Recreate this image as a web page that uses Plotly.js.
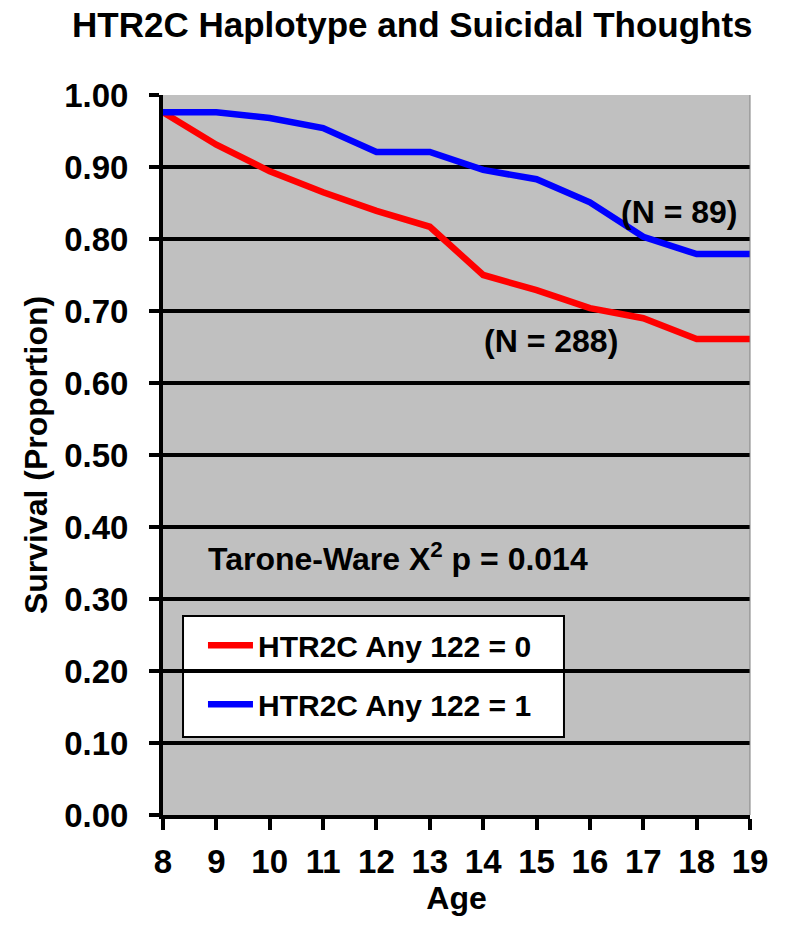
<!DOCTYPE html>
<html>
<head>
<meta charset="utf-8">
<script src="https://cdn.plot.ly/plotly-3.0.1.min.js"></script>
<style>html,body{margin:0;padding:0;background:#fff;}#chart{width:791px;height:937px;}</style>
</head>
<body>
<div id="chart"></div>
<script>
const ages = [8, 9, 10, 11, 12, 13, 14, 15, 16, 17, 18, 19];
const survivalAny0 = [0.976, 0.931, 0.894, 0.865, 0.839, 0.817, 0.750, 0.729, 0.704, 0.690, 0.661, 0.661];
const survivalAny1 = [0.976, 0.976, 0.968, 0.954, 0.921, 0.921, 0.896, 0.883, 0.851, 0.803, 0.779, 0.779];
const seriesNames = ["HTR2C Any 122 = 0", "HTR2C Any 122 = 1"];
const yTickVals = [0, 0.1, 0.2, 0.3, 0.4, 0.5, 0.6, 0.7, 0.8, 0.9, 1.0];
const yTickText = ["0.00", "0.10", "0.20", "0.30", "0.40", "0.50", "0.60", "0.70", "0.80", "0.90", "1.00"];
const nLabels = ["(N = 288)", "(N = 89)"];
const statText = "Tarone-Ware X<sup>2</sup> p = 0.014";

const FAM = "Liberation Sans, Arial, sans-serif";
const bold = (s) => ({family: FAM, size: s, color: "#000", weight: "bold"});

const traces = [
  {x: ages, y: survivalAny0, name: seriesNames[0], mode: "lines", legendgroup: "a",
   line: {color: "#ff0000", width: 6.5}},
  {x: ages, y: survivalAny1, name: seriesNames[1], mode: "lines", legendgroup: "b",
   line: {color: "#0000ff", width: 6.5}}
];

const layout = {
  width: 791, height: 937,
  margin: {l: 163, r: 41, t: 95, b: 122},
  paper_bgcolor: "#ffffff",
  plot_bgcolor: "#c0c0c0",
  title: {text: "HTR2C Haplotype and Suicidal Thoughts", font: bold(35),
          xref: "container", x: 72 / 791, xanchor: "left",
          yref: "container", y: 1 - 25 / 937, yanchor: "middle"},
  xaxis: {
    range: [8, 19], tickvals: ages, ticktext: ages.map(String),
    showgrid: false, zeroline: false,
    showline: true, linecolor: "#000", linewidth: 4,
    ticks: "outside", ticklen: 11, tickwidth: 4, tickcolor: "#000",
    tickfont: bold(33), ticklabelstandoff: 3,
    title: {text: "Age", font: bold(32), standoff: 0}
  },
  yaxis: {
    range: [0, 1], tickvals: yTickVals, ticktext: yTickText,
    showgrid: true, gridcolor: "#000", gridwidth: 4,
    zeroline: false,
    showline: true, linecolor: "#000", linewidth: 4,
    ticks: "outside", ticklen: 10, tickwidth: 4, tickcolor: "#000",
    tickfont: bold(33), ticklabelstandoff: 14,
    title: {text: "Survival (Proportion)", font: bold(32), standoff: 8}
  },
  showlegend: true,
  legend: {
    x: 0.0681, y: 0.272, xanchor: "left", yanchor: "top",
    bgcolor: "rgba(0,0,0,0)", borderwidth: 0,
    font: bold(30), tracegroupgap: 17, itemwidth: 45
  },
  shapes: [
    {type: "rect", xref: "paper", yref: "paper", x0: 0.0341, x1: 0.6831, y0: 0.1083, y1: 0.2764,
     layer: "between", fillcolor: "#ffffff", line: {color: "#000", width: 2}},
    {type: "line", xref: "paper", yref: "paper", x0: 1, x1: 1, y0: 0, y1: 1,
     line: {color: "#808080", width: 1}}
  ],
  annotations: [
    {x: 15.27, y: 0.658, xref: "x", yref: "y", text: nLabels[0], showarrow: false, font: bold(32)},
    {x: 17.67, y: 0.8375, xref: "x", yref: "y", text: nLabels[1], showarrow: false, font: bold(32)},
    {x: 12.40, y: 0.358, xref: "x", yref: "y", text: statText, showarrow: false, font: bold(32)}
  ]
};

Plotly.newPlot("chart", traces, layout, {displayModeBar: false, staticPlot: true});
</script>
</body>
</html>
